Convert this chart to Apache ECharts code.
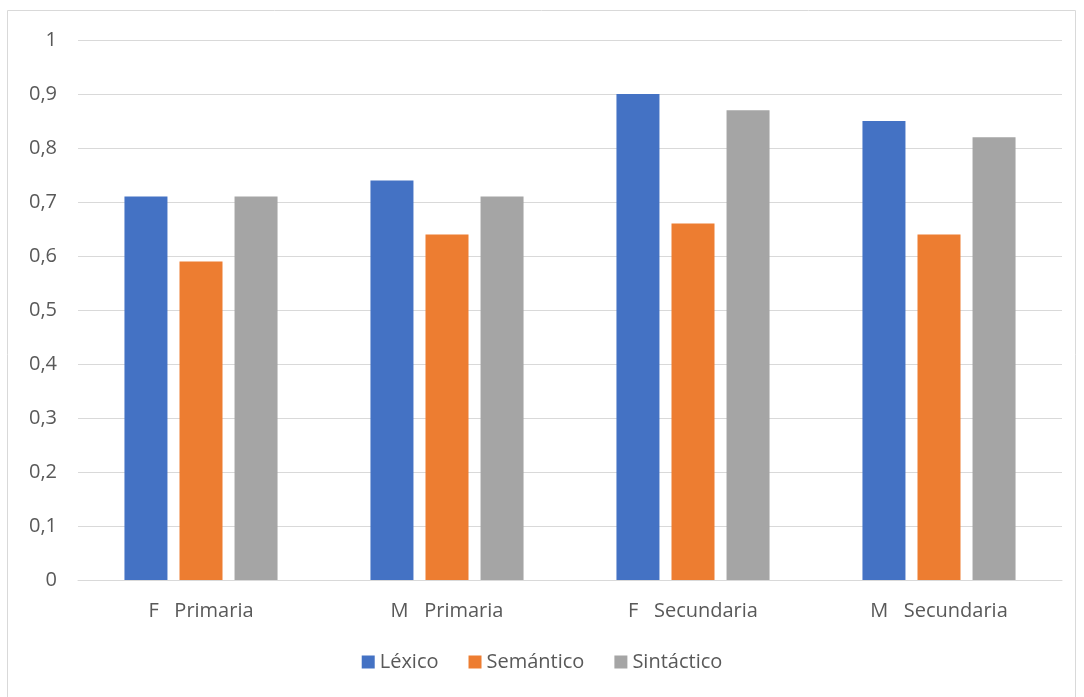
<!DOCTYPE html>
<html><head><meta charset="utf-8">
<script src="https://cdn.jsdelivr.net/npm/echarts@6/dist/echarts.min.js"></script>
<style>html,body{margin:0;padding:0;background:#fff}#c{width:1084px;height:697px}</style>
</head><body><div id="c"></div>
<script>
const categories = ['F   Primaria', 'M   Primaria', 'F   Secundaria', 'M   Secundaria'];
const lexico = [0.71, 0.74, 0.90, 0.85];
const semantico = [0.59, 0.64, 0.66, 0.64];
const sintactico = [0.71, 0.71, 0.87, 0.82];
const seriesNames = ['Léxico', 'Semántico', 'Sintáctico'];
const colors = ['#4472C4', '#ED7D31', '#A5A5A5'];
const font = '"Open Sans", "Liberation Sans", sans-serif';
const chart = echarts.init(document.getElementById('c'), null, {renderer: 'canvas'});
const mk = (name, data, color) => ({
  name, type: 'bar', data, barWidth: 43, barGap: '28%',
  itemStyle: {color}, emphasis: {disabled: true}
});
chart.setOption({
  animation: false,
  color: colors,
  graphic: [{type: 'rect', shape: {x: 7.5, y: 10.5, width: 1068, height: 700},
    style: {fill: 'none', stroke: '#d9d9d9', lineWidth: 1}, silent: true}],
  grid: {left: 78, right: 22, top: 40, bottom: 117, containLabel: false},
  legend: {bottom: 20, left: 'center', itemWidth: 13, itemHeight: 13, itemGap: 30,
    icon: 'rect', textStyle: {fontFamily: font, fontSize: 20, color: '#595959'},
    data: seriesNames},
  xAxis: {type: 'category', data: categories,
    axisLine: {lineStyle: {color: '#d9d9d9', width: 1}},
    axisTick: {show: false},
    axisLabel: {fontFamily: font, fontSize: 20, color: '#595959', margin: 21}},
  yAxis: {type: 'value', min: 0, max: 1, interval: 0.1,
    axisLine: {show: false}, axisTick: {show: false},
    splitLine: {lineStyle: {color: '#d9d9d9', width: 1}},
    axisLabel: {fontFamily: font, fontSize: 20, color: '#595959', margin: 21,
      formatter: v => String(Math.round(v * 10) / 10).replace('.', ',')}},
  series: [mk(seriesNames[0], lexico, colors[0]), mk(seriesNames[1], semantico, colors[1]), mk(seriesNames[2], sintactico, colors[2])]
});
</script></body></html>
